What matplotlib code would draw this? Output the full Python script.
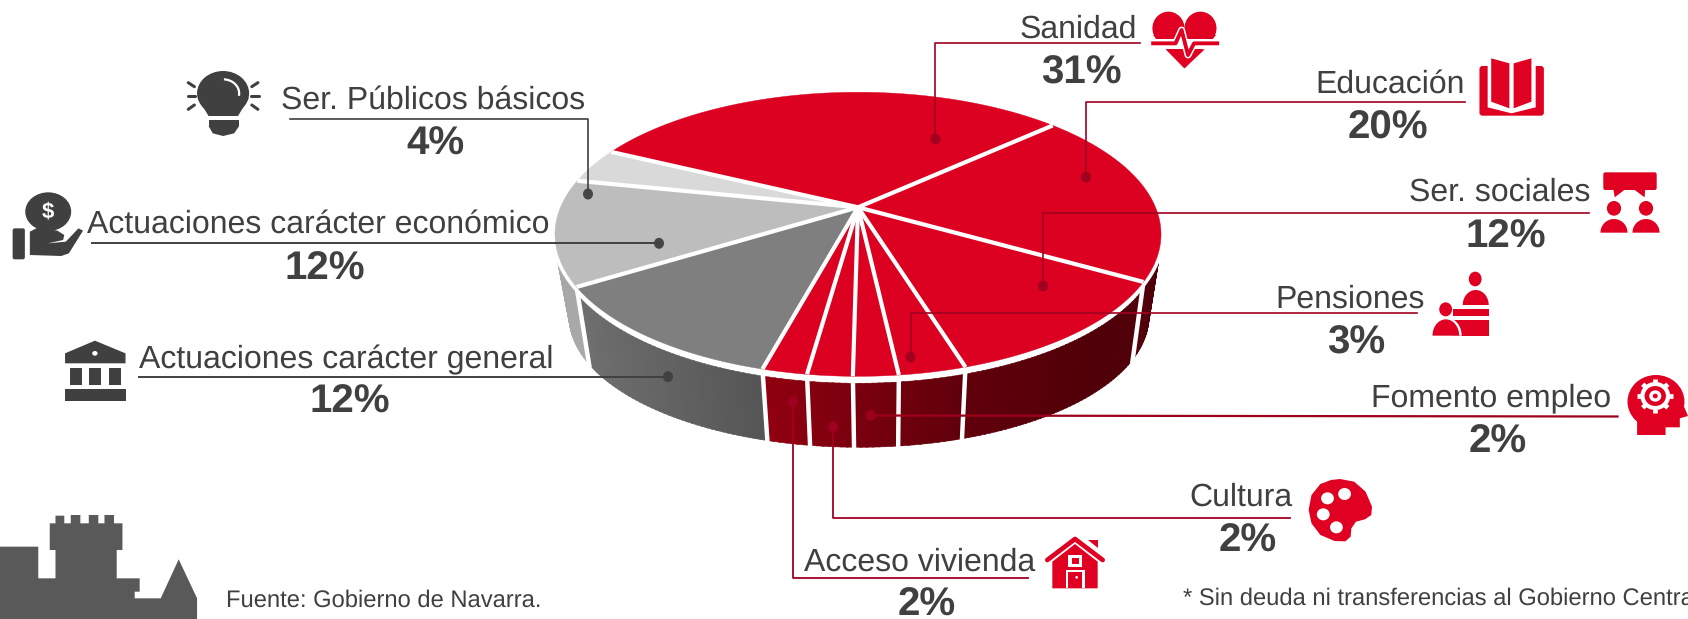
import numpy as np
import matplotlib
matplotlib.use("Agg")
import matplotlib.pyplot as plt
from matplotlib.collections import PolyCollection
from matplotlib.patches import Polygon, Ellipse, FancyBboxPatch

plt.rcParams['font.family'] = ['Liberation Sans', 'DejaVu Sans']
plt.rcParams['text.hinting'] = 'no_hinting'

# ----------------------------
# Data
# ----------------------------
labels = ["Sanidad", "Educación", "Ser. sociales", "Pensiones", "Fomento empleo", "Cultura",
          "Acceso vivienda", "Actuaciones carácter general", "Actuaciones carácter económico",
          "Ser. Públicos básicos"]
values = [31, 20, 12, 3, 2, 2, 2, 12, 12, 4]

RED = "#dc0021"
ICON_RED = "#e00022"
DARK = "#404040"
LINE_RED = "#a00020"
top_colors = [RED] * 7 + ["#7f7f7f", "#bdbdbd", "#d9d9d9"]
start_angle = -64

# ----------------------------
# Perspective of the disc
# ----------------------------
TOP = dict(A=297.5, B=136.9, k=0.19, x0=858, y0=207.3)
RING = dict(A=297.5, B=136.9, k=0.19, x0=858, y0=214.3)
BOTTOM = dict(A=284.7, B=126.0, k=0.19, x0=859, y0=291.7)


def project(theta, A, B, k, x0, y0):
    t = np.radians(theta)
    x, y = np.sin(t), -np.cos(t)
    w = 1 - k * y
    return x0 + A * x / w, y0 + B * y / w


def wall_color(i, x):
    if i < 7:
        stops = [[0x90, 0x00, 0x10], [0x7a, 0x00, 0x0e], [0x62, 0x00, 0x0c], [0x50, 0x00, 0x08]]
        xs = [768, 860, 960, 1100]
    elif i == 7:
        stops = [[0x6e, 0x6e, 0x6e], [0x56, 0x56, 0x56]]
        xs = [583, 760]
    else:
        return "#a8a8a8"
    stops = np.array(stops) / 255
    return tuple(np.interp(x, xs, stops[:, c]) for c in range(3))


fig = plt.figure(figsize=(16.88, 6.19), dpi=100)
ax = fig.add_axes([0, 0, 1, 1])
ax.set_xlim(0, 1688)
ax.set_ylim(619, 0)
ax.axis('off')

edges = start_angle + np.cumsum([0] + values) * 3.6

# side walls, as thin strips so they can carry a gradient
quads, quad_colors = [], []
for i in range(len(values)):
    th = np.arange(edges[i], edges[i + 1] + 0.01, 1.0)
    th = np.append(th, edges[i + 1])
    for a, b in zip(th[:-1], th[1:]):
        if a == b:
            continue
        p1, p2 = project(a, **RING), project(b + 0.2, **RING)
        p3, p4 = project(b + 0.2, **BOTTOM), project(a, **BOTTOM)
        quads.append([p1, p2, p3, p4])
        quad_colors.append(wall_color(i, p1[0]))
ax.add_collection(PolyCollection(quads, facecolors=quad_colors, edgecolors=quad_colors,
                                 linewidths=0.4, zorder=1))

# seams on the wall
for e in edges[1:9]:
    x1, y1 = project(e, **TOP)
    x2, y2 = project(e, **BOTTOM)
    ax.plot([x1, x2], [y1, y2 + 3], color="white", lw=3.2, zorder=2, solid_capstyle='butt')

# top face
rim = np.linspace(0, 360, 361)
rx, ry = project(rim, **TOP)
ax.add_patch(Polygon(np.column_stack([rx, ry]), closed=True, fc="white", ec="white", lw=5.5, zorder=3))
for i, c in enumerate(top_colors):
    th = np.linspace(edges[i], edges[i + 1], 60)
    px, py = project(th, **TOP)
    pts = np.column_stack([np.r_[TOP['x0'], px], np.r_[TOP['y0'], py]])
    ax.add_patch(Polygon(pts, closed=True, fc=c, ec=c, lw=0.3, zorder=4))
for e in edges[:-1]:
    x1, y1 = project(e, **TOP)
    ax.plot([TOP['x0'], x1], [TOP['y0'], y1], color="white", lw=3, zorder=5, solid_capstyle='butt')

# ----------------------------
# Leader lines and dots
# ----------------------------
leaders = [
    ([1140, 935.4, 935.4], [43.3, 43.3, 139], LINE_RED, 1.2),
    ([1464.5, 1086, 1086], [102, 102, 177], LINE_RED, 1.2),
    ([1589, 1043, 1043], [212.5, 212.5, 286], LINE_RED, 1.2),
    ([1416.5, 910.6, 910.6], [313, 313, 357], LINE_RED, 1.2),
    ([1617.5, 870.6], [416.5, 415.5], "#9d001a", 1.6),
    ([1290, 833, 833], [518.3, 518.3, 426.7], LINE_RED, 1.3),
    ([1027.7, 793, 793], [578.3, 578.3, 401.7], LINE_RED, 1.3),
    ([139, 668], [376.7, 376.7], DARK, 1.4),
    ([92, 659], [243.3, 243.3], DARK, 1.4),
    ([290, 588, 588], [119, 119, 194], DARK, 1.2),
]
for xs, ys, c, lw in leaders:
    ax.plot(xs, ys, color=c, lw=lw, zorder=6)
    ax.add_patch(Ellipse((xs[-1], ys[-1]), 10, 11, fc=c, ec='none', alpha=0.95, zorder=6))

# ----------------------------
# Texts
# ----------------------------
PCT = 29
LAB = 23
name_pos = [(1137, 38, 'right'), (1465, 92.7, 'right'), (1590, 201, 'right'), (1424.7, 307.3, 'right'),
            (1611, 406.7, 'right'), (1292.6, 505.7, 'right'), (1035, 570.7, 'right'),
            (553, 368.3, 'right'), (549, 232.3, 'right'), (585.5, 108.3, 'right')]
pct_pos = [(1081, 84), (1387.5, 138.3), (1506, 247.3), (1356, 354), (1497.7, 452.7), (1248, 551.7),
           (927, 616), (349.6, 413), (325, 279.3), (435.5, 155)]
for lab, v, (nx, ny, ha), (px, py) in zip(labels, values, name_pos, pct_pos):
    ax.text(nx, ny, lab, fontsize=LAB, color=DARK, ha=ha, va='baseline', zorder=8)
    ax.text(px, py, f"{v}%", fontsize=PCT, fontweight='bold', color=DARK, ha='center', va='baseline', zorder=8)

ax.text(225.8, 606.7, "Fuente: Gobierno de Navarra.", fontsize=17.1, color=DARK, va='baseline')
ax.text(1182.7, 605, "* Sin deuda ni transferencias al Gobierno Central", fontsize=17.1, color=DARK, va='baseline')


# ----------------------------
# Icons and castle (traced from the crops)
# ----------------------------
def poly(points, fx, x0, y0, color, z=7, **kw):
    pts = [(x0 + px / fx, y0 + py / 3) for px, py in points]
    p = Polygon(pts, closed=True, fc=color, ec='none', zorder=z, **kw)
    ax.add_patch(p)


def ell(cx, cy, rx, ry, fx, x0, y0, color, z=7):
    ax.add_patch(Ellipse((x0 + cx / fx, y0 + cy / 3), 2 * rx / fx, 2 * ry / 3, fc=color, ec='none', zorder=z))


def half(x1, x2, ytop, ybot, fx, x0, y0, color, z=7):
    t = np.linspace(np.pi, 0, 30)
    cx, rx = (x1 + x2) / 2, (x2 - x1) / 2
    pts = list(zip(cx + rx * np.cos(t), ybot - (ybot - ytop) * np.sin(t)))
    poly(pts, fx, x0, y0, color, z)


def box(x1, x2, y1, y2, fx, x0, y0, color, z=7):
    poly([(x1, y1), (x2, y1), (x2, y2), (x1, y2)], fx, x0, y0, color, z)


# castle
F5 = 1568 / 600
poly([(0, 230), (100, 230), (100, 325), (145, 325), (145, 240), (130, 240), (130, 160), (145, 160), (145, 137),
      (168, 137), (168, 160), (185, 160), (185, 135), (210, 135), (210, 160), (232, 160), (232, 135), (257, 135),
      (257, 160), (273, 160), (273, 135), (298, 135), (298, 160), (320, 160), (320, 240), (305, 240), (305, 325),
      (365, 325), (365, 365), (352, 365), (352, 385), (420, 385), (467, 268), (515, 385), (515, 447), (0, 447)],
     F5, 0, 470, "#595959")

# bulb
ell(583, 160, 68, 67, F5, 0, 40, DARK)
poly([(517, 175), (650, 175), (622, 228), (545, 228)], F5, 0, 40, DARK)
box(545, 625, 240, 258, F5, 0, 40, DARK)
poly([(545, 258), (625, 258), (612, 280), (583, 288), (556, 280)], F5, 0, 40, DARK)
for (a, b), (c, d) in [((492, 128), (508, 140)), ((490, 168), (510, 168)), ((492, 208), (508, 195))]:
    for sx in (lambda v: v, lambda v: 1166 - v):
        ax.plot([sx(a) / F5, sx(c) / F5], [40 + b / 3, 40 + d / 3], color=DARK, lw=2.2, zorder=7, solid_capstyle='round')
t = np.linspace(-1.45, 0.1, 20)
ax.plot((583 + 42 * np.cos(t)) / F5, 40 + (160 + 42 * np.sin(t)) / 3, color="white", lw=1.6, zorder=8)

# hand with coin
ell(126, 515, 60, 58, F5, 0, 40, DARK)
ax.text(126 / F5, 40 + 515 / 3, "$", fontsize=16, fontweight='bold', color="white", ha='center', va='center', zorder=8)
ax.add_patch(FancyBboxPatch((33 / F5 + 2, 40 + 565 / 3 + 2), 32 / F5 - 4, 93 / 3 - 4, boxstyle="round,pad=2",
                            fc=DARK, ec='none', zorder=7))
poly([(78, 575), (100, 562), (150, 572), (168, 585), (165, 600), (125, 610), (172, 605), (205, 565), (217, 572),
      (180, 640), (160, 648), (78, 645)], F5, 0, 40, DARK)

# bank
poly([(170, 940), (248, 902), (328, 940), (328, 970), (170, 970)], F5, 0, 40, DARK)
ell(248, 940, 7, 7, F5, 0, 40, "white", 8)
for a, b in [(183, 215), (232, 265), (285, 317)]:
    box(a, b, 985, 1035, F5, 0, 40, DARK)
box(170, 328, 1048, 1082, F5, 0, 40, DARK)

# heart
F3 = 1568 / 558
X3 = 1130
ell(108, 85, 45, 50, F3, X3, 0, ICON_RED)
ell(198, 85, 45, 50, F3, X3, 0, ICON_RED)
poly([(65, 105), (242, 105), (153, 205)], F3, X3, 0, ICON_RED)
box(60, 250, 116, 148, F3, X3, 0, "white", 8)
poly([(100, 148), (210, 148), (153, 205)], F3, X3, 0, ICON_RED, 8)
px = np.array([65, 128, 145, 163, 180, 245]) / F3 + X3
py = np.array([130, 130, 90, 165, 130, 130]) / 3
ax.plot(px, py, color="white", lw=5, zorder=9)
ax.plot(px, py, color=ICON_RED, lw=2.8, zorder=10)

# book
ax.add_patch(FancyBboxPatch((982 / F3 + X3 + 3, 198 / 3 + 3), 181 / F3 - 6, 149 / 3 - 6, boxstyle="round,pad=3",
                            fc=ICON_RED, ec='none', zorder=7))
poly([(1005, 190), (1140, 190), (1140, 322), (1072, 340), (1005, 322)], F3, X3, 0, "white", 8)
poly([(1015, 175), (1066, 190), (1066, 325), (1015, 305)], F3, X3, 0, ICON_RED, 9)
poly([(1128, 175), (1078, 190), (1078, 325), (1128, 305)], F3, X3, 0, ICON_RED, 9)

# people talking
ax.add_patch(FancyBboxPatch((1330 / F3 + X3 + 2, 517 / 3 + 2), 150 / F3 - 4, 53 / 3 - 4, boxstyle="round,pad=2",
                            fc=ICON_RED, ec='none', zorder=7))
poly([(1358, 565), (1395, 565), (1362, 592)], F3, X3, 0, ICON_RED)
poly([(1412, 565), (1448, 565), (1446, 592)], F3, X3, 0, ICON_RED)
for c in (1360, 1450):
    ell(c, 625, 20, 22, F3, X3, 0, ICON_RED)
half(1322, 1398, 657, 698, F3, X3, 0, ICON_RED)
half(1412, 1488, 657, 698, F3, X3, 0, ICON_RED)

# pensions
ell(970, 837, 18, 22, F3, X3, 0, ICON_RED)
half(935, 1008, 870, 915, F3, X3, 0, ICON_RED)
box(908, 1008, 928, 948, F3, X3, 0, ICON_RED)
box(908, 1008, 960, 1007, F3, X3, 0, ICON_RED)
ell(887, 928, 20, 23, F3, X3, 0, "white", 8)
ell(887, 928, 18, 21, F3, X3, 0, ICON_RED, 9)
half(843, 932, 952, 1007, F3, X3, 0, "white", 8)
half(850, 925, 958, 1007, F3, X3, 0, ICON_RED, 9)

# head with gear
Y4 = 340
ell(1478, 185, 80, 80, F3, X3, Y4, ICON_RED)
poly([(1425, 230), (1425, 285), (1505, 285), (1505, 262), (1545, 262), (1545, 235), (1568, 228), (1553, 190),
      (1478, 180)], F3, X3, Y4, ICON_RED)
ang = np.radians(np.arange(0, 360, 45))
for a in ang:
    ax.plot([X3 + (1476 + 38 * np.cos(a)) / F3, X3 + (1476 + 50 * np.cos(a)) / F3],
            [Y4 + (168 + 38 * np.sin(a)) / 3, Y4 + (168 + 50 * np.sin(a)) / 3], color="white", lw=3.4, zorder=8,
            solid_capstyle='butt')
ell(1476, 168, 42, 42, F3, X3, Y4, "white", 8)
ell(1476, 168, 30, 30, F3, X3, Y4, ICON_RED, 9)
ell(1476, 168, 17, 17, F3, X3, Y4, "white", 10)
ell(1476, 168, 7, 7, F3, X3, Y4, ICON_RED, 11)

# palette
poly([(590, 417), (630, 425), (662, 455), (680, 500), (678, 525), (660, 538), (635, 545), (622, 565), (620, 590),
      (605, 604), (575, 603), (535, 585), (510, 550), (502, 510), (510, 465), (535, 432), (565, 420)],
     F3, X3, Y4, ICON_RED)
for c in [(555, 475), (603, 462), (543, 523), (580, 562)]:
    ell(c[0], c[1], 18, 18, F3, X3, Y4, "white", 9)

# house
F6 = 3
X6, Y6 = 760, 360
poly([(877, 605), (945, 552), (1013, 605), (1013, 685), (877, 685)], F6, X6, Y6, ICON_RED)
ax.plot(X6 + np.array([862, 945, 1028]) / F6, Y6 + np.array([600, 537, 600]) / 3, color=ICON_RED, lw=3.4,
        solid_capstyle='round', zorder=7)
poly([(985, 540), (1013, 540), (1013, 565)], F6, X6, Y6, ICON_RED)
box(925, 967, 585, 620, F6, X6, Y6, "white", 8)
box(935, 958, 593, 612, F6, X6, Y6, ICON_RED, 9)
box(918, 974, 630, 685, F6, X6, Y6, "white", 8)
box(925, 967, 637, 685, F6, X6, Y6, ICON_RED, 9)
ell(950, 652, 4, 4, F6, X6, Y6, "white", 10)

fig.savefig("out.png", dpi=100)
